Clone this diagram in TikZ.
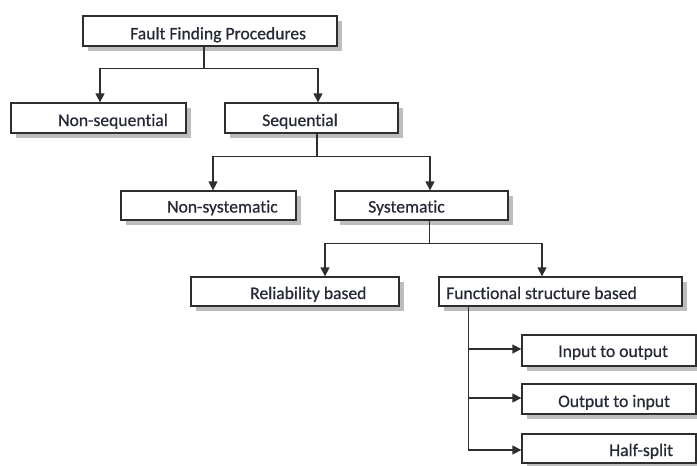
\documentclass[tikz,border=0pt]{standalone}
\usepackage{fontspec}
\setmainfont{Carlito}[Ligatures={NoCommon}, FakeBold=0.6]
\usetikzlibrary{arrows.meta,shadows}
\definecolor{txt}{HTML}{262A36}
\definecolor{ln}{HTML}{2E2E2E}
\definecolor{shd}{HTML}{BDBDBD}
\begin{document}
\begin{tikzpicture}[x=1pt,y=-1pt,
  box/.style={draw=ln, line width=1.3pt, fill=white, inner sep=0pt,
    drop shadow={shadow xshift=4.5pt, shadow yshift=-4.5pt, fill=shd, opacity=1}},
  lbl/.style={anchor=base west, inner sep=0pt, text=txt, font=\fontsize{17.6}{20}\selectfont},
  arr/.style={draw=ln, line width=1.3pt, -{Triangle[length=9pt,width=9pt]}},
  con/.style={draw=ln, line width=1.3pt}]
\useasboundingbox (0,0) rectangle (697,466);

% boxes
\node[box, minimum width=254pt, minimum height=30pt] (ffp) at (210,31) {};
\node[box, minimum width=175pt, minimum height=30pt] (nseq) at (98.5,118) {};
\node[box, minimum width=173pt, minimum height=30pt] (seq) at (311.5,118) {};
\node[box, minimum width=175pt, minimum height=29pt] (nsys) at (208.5,205.5) {};
\node[box, minimum width=173pt, minimum height=29pt] (sys) at (421.5,205.5) {};
\node[box, minimum width=208pt, minimum height=29pt] (rel) at (295,291.5) {};
\node[box, minimum width=243pt, minimum height=29pt] (fun) at (560.5,291.5) {};
\node[box, minimum width=174pt, minimum height=31pt] (io) at (609,350.5) {};
\node[box, minimum width=174pt, minimum height=30pt] (oi) at (609,399) {};
\node[box, minimum width=174pt, minimum height=29pt] (hs) at (609,448.5) {};

% labels
\node[lbl] (tffp) at (130,39.3) {Fault Finding Procedures};
\node[lbl] (tnseq) at (58,126) {Non-sequential};
\node[lbl] (tseq) at (262,126) {Sequential};
\node[lbl] (tnsys) at (167,212.5) {Non-systematic};
\node[lbl] (tsys) at (368,212.5) {Systematic};
\node[lbl] (trel) at (250,299) {Reliability based};
\node[lbl] (tfun) at (446,299) {Functional structure based};
\node[lbl] (tio) at (558,357) {Input to output};
\node[lbl] (toi) at (558,407) {Output to input};
\node[lbl] (ths) at (609,456) {Half-split};

% connectors
\draw[arr] ([xshift=-6pt]ffp.south) -- ++(0,22) -| ([xshift=1.5pt]nseq.north);
\draw[arr] ([xshift=-6pt]ffp.south) -- ++(0,22) -| ([xshift=6.5pt]seq.north);
\draw[arr] ([xshift=5.5pt]seq.south) -- ++(0,23) -| ([xshift=4.5pt]nsys.north);
\draw[arr] ([xshift=5.5pt]seq.south) -- ++(0,23) -| ([xshift=8.5pt]sys.north);
\draw[arr] ([xshift=8pt]sys.south) -- ++(0,23) -| ([xshift=30pt]rel.north);
\draw[arr] ([xshift=8pt]sys.south) -- ++(0,23) -| ([xshift=-18.5pt]fun.north);
\draw[arr] ([xshift=30pt]fun.south west) |- ([yshift=1.5pt]io.west);
\draw[arr] ([xshift=30pt]fun.south west) |- ([yshift=1pt]oi.west);
\draw[arr] ([xshift=30pt]fun.south west) |- ([yshift=-1.5pt]hs.west);
\end{tikzpicture}
\end{document}
